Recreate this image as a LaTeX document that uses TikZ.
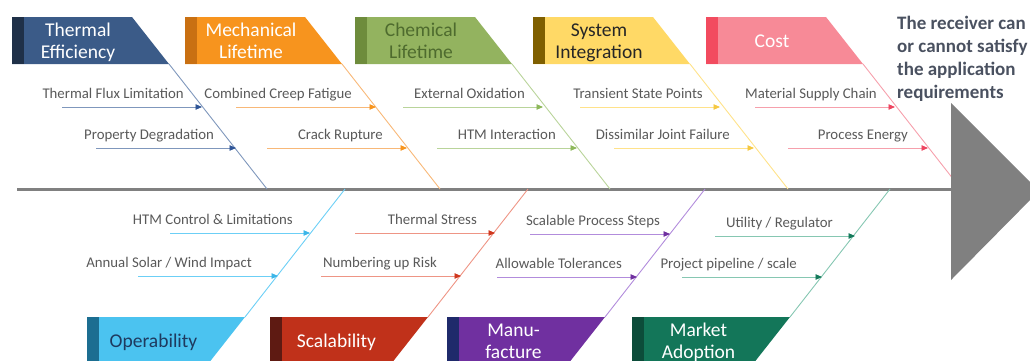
\documentclass[tikz,border=0pt]{standalone}
\usepackage{fontspec}
\setmainfont{Carlito}
\usetikzlibrary{arrows.meta}

% header fills, strips and text
\definecolor{thermF}{HTML}{3B5B88}\definecolor{thermS}{HTML}{1F3048}
\definecolor{mechF}{HTML}{F7941E}\definecolor{mechS}{HTML}{C97012}
\definecolor{chemF}{HTML}{93B35F}\definecolor{chemS}{HTML}{6E8C3C}\definecolor{chemT}{HTML}{4E6B2E}
\definecolor{sysF}{HTML}{FFD966}\definecolor{sysS}{HTML}{7F5F00}\definecolor{sysT}{HTML}{262626}
\definecolor{costF}{HTML}{F78A97}\definecolor{costS}{HTML}{F24B5F}
\definecolor{operF}{HTML}{4BC3F0}\definecolor{operS}{HTML}{1C6E91}\definecolor{operT}{HTML}{1E3A5F}
\definecolor{scalF}{HTML}{C0311A}\definecolor{scalS}{HTML}{5E1A12}
\definecolor{manuF}{HTML}{7030A0}\definecolor{manuS}{HTML}{1F2A6B}
\definecolor{markF}{HTML}{137659}\definecolor{markS}{HTML}{0C4C3A}
% bone lines and arrow tips
\definecolor{thermL}{HTML}{7F97BC}\definecolor{thermA}{HTML}{2F5597}
\definecolor{mechL}{HTML}{F8B878}\definecolor{mechA}{HTML}{F7941D}
\definecolor{chemL}{HTML}{B9D49A}\definecolor{chemA}{HTML}{8DB85A}
\definecolor{sysL}{HTML}{FFE28A}\definecolor{sysA}{HTML}{F5C842}
\definecolor{costL}{HTML}{F6A0AC}\definecolor{costA}{HTML}{EE4560}
\definecolor{operL}{HTML}{6CCFF6}\definecolor{operA}{HTML}{3DB6E8}
\definecolor{scalL}{HTML}{EE9585}\definecolor{scalA}{HTML}{D0381F}
\definecolor{manuL}{HTML}{B28CDC}\definecolor{manuA}{HTML}{7030A0}
\definecolor{markL}{HTML}{86C7B2}\definecolor{markA}{HTML}{157A5B}
\definecolor{subgray}{HTML}{595959}
\definecolor{spinegray}{HTML}{808080}
\definecolor{goaltext}{HTML}{4A5160}

\tikzset{
  headtext/.style={inner sep=0pt, align=center, font=\fontsize{19.5}{22}\selectfont},
  subtext/.style={inner sep=0pt, anchor=base east, text=subgray, font=\fontsize{14.8}{17}\selectfont},
  goalline/.style={inner sep=0pt, anchor=base west, text=goaltext, font=\fontsize{19}{23}\selectfont\bfseries},
  bone/.style={line width=0.9pt},
}

% category box above the spine: #1 name, #2 left x, #3 fill, #4 strip, #5 text colour, #6 text
% (every text line carries a \strut so that descenders do not move the block)
\newcommand\fishtop[6]{%
  \fill[#3] (#2,17) -- ({#2+120},17) -- ({#2+157},64) -- (#2,64) -- cycle;
  \fill[#4] (#2,17) rectangle ({#2+12},64);
  \node[headtext, text=#5] (#1) at ({#2+66},43) {#6};
  \coordinate (#1-c) at ({#2+157},64);
  \coordinate (#1-s) at ({#2+255},189);
}
% category box below the spine
\newcommand\fishbottom[6]{%
  \fill[#3] (#2,317) -- ({#2+158},317) -- ({#2+121},364) -- (#2,364) -- cycle;
  \fill[#4] (#2,317) rectangle ({#2+12},364);
  \node[headtext, text=#5] (#1) at ({#2+66.5},343.5) {#6};
  \coordinate (#1-c) at ({#2+158},317);
  \coordinate (#1-s) at ({#2+258},189);
}
% cause arrow: #1 name, #2 end x, #3 y, #4 text gap, #5 text, #6 line colour, #7 tip colour
\newcommand\fishcause[7]{%
  \coordinate (#1-a) at ({#2-140},#3);
  \coordinate (#1-b) at (#2,#3);
  \draw[#6, line width=0.9pt, -{Triangle[length=6.5pt,width=5.5pt,color=#7]}] (#1-a) -- (#1-b);
  \node[subtext] (#1) at ({#2-#4},{#3-9}) {#5};
}

\begin{document}
\begin{tikzpicture}[x=1pt,y=-1pt]
\useasboundingbox (0,0) rectangle (1030,360);
\clip (0,0) rectangle (1030,360);

% spine
\coordinate (tail) at (17,189.5);
\coordinate (head) at (952,189.5);
\draw[spinegray, line width=3pt] (tail) -- (head);

% categories
\fishtop{thermal}{12}{thermF}{thermS}{white}{\strut Thermal\\\strut Efficiency}
\fishtop{mech}{185}{mechF}{mechS}{white}{\strut Mechanical\\\strut Lifetime}
\fishtop{chem}{355}{chemF}{chemS}{chemT}{\strut Chemical\\\strut Lifetime}
\fishtop{sys}{533}{sysF}{sysS}{sysT}{\strut System\\\strut Integration}
\fishtop{cost}{706}{costF}{costS}{white}{\strut Cost}
\fishbottom{oper}{87}{operF}{operS}{operT}{\strut Operability}
\fishbottom{scal}{270}{scalF}{scalS}{white}{\strut Scalability}
\fishbottom{manu}{447}{manuF}{manuS}{white}{\strut Manu-\\\strut facture}
\fishbottom{market}{632}{markF}{markS}{white}{\strut Market\\\strut Adoption}

% bones
\draw[bone, thermL] (thermal-c) -- (thermal-s);
\draw[bone, mechL] (mech-c) -- (mech-s);
\draw[bone, chemL] (chem-c) -- (chem-s);
\draw[bone, sysL] (sys-c) -- (sys-s);
\draw[bone, costL] (cost-c) -- (cost-s);
\draw[bone, operL] (oper-c) -- (oper-s);
\draw[bone, scalL] (scal-c) -- (scal-s);
\draw[bone, manuL] (manu-c) -- (manu-s);
\draw[bone, markL] (market-c) -- (market-s);

% causes above the spine
\fishcause{tfl}{202}{107}{18}{Thermal Flux Limitation}{thermL}{thermA}
\fishcause{pdeg}{236}{148}{22}{Property Degradation}{thermL}{thermA}
\fishcause{ccf}{376}{107}{24}{Combined Creep Fatigue}{mechL}{mechA}
\fishcause{crack}{407}{148}{24}{Crack Rupture}{mechL}{mechA}
\fishcause{oxid}{543}{107}{18}{External Oxidation}{chemL}{chemA}
\fishcause{htmi}{577}{148}{21}{HTM Interaction}{chemL}{chemA}
\fishcause{tsp}{720}{107}{17}{Transient State Points}{sysL}{sysA}
\fishcause{djf}{754}{148}{24}{Dissimilar Joint Failure}{sysL}{sysA}
\fishcause{msc}{895}{107}{18}{Material Supply Chain}{costL}{costA}
\fishcause{pen}{928}{148}{20}{Process Energy}{costL}{costA}

% causes below the spine
\fishcause{htmc}{310}{233}{17}{HTM Control \& Limitations}{operL}{operA}
\fishcause{aswi}{278}{276}{26}{Annual Solar / Wind Impact}{operL}{operA}
\fishcause{tstr}{495}{233}{18}{Thermal Stress}{scalL}{scalA}
\fishcause{nur}{461}{276}{24}{Numbering up Risk}{scalL}{scalA}
\fishcause{sps}{670}{234}{10}{Scalable Process Steps}{manuL}{manuA}
\fishcause{atol}{637}{277}{15}{Allowable Tolerances}{manuL}{manuA}
\fishcause{ureg}{855}{236}{22}{Utility / Regulator}{markL}{markA}
\fishcause{pps}{822}{277}{25}{Project pipeline / scale}{markL}{markA}

% arrow head of the spine
\fill[spinegray] (951,103) -- (1039,191) -- (951,280) -- cycle;

% outcome
\node[goalline] (goal1) at (897,29) {The receiver can};
\node[goalline] (goal2) at (897,52) {or cannot satisfy};
\node[goalline] (goal3) at (897,75) {the application};
\node[goalline] (goal4) at (897,98) {requirements};
\end{tikzpicture}
\end{document}
